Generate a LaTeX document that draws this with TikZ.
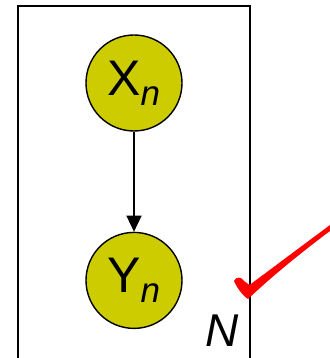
\documentclass[tikz,border=0pt]{standalone}
\usepackage{amsmath}
\usepackage{fontspec}
\setmainfont{Liberation Sans}
\usetikzlibrary{arrows.meta,positioning}
\definecolor{varfill}{HTML}{CCCC00}
\definecolor{tick}{HTML}{FF0000}

\begin{document}
\begin{tikzpicture}[x=1pt,y=1pt,node distance=100pt,>={Triangle[length=16pt,width=15pt]},
  var/.style={circle,draw=black,line width=1.4pt,fill=varfill,minimum size=96pt,inner sep=0pt,font=\fontsize{50}{54}\selectfont}]
\useasboundingbox (0,0) rectangle (329,358);
\node[var] (xn) at (134,275) {X$_{\textit{n}}$};
\node[var,below=of xn] (yn) {Y$_{\textit{n}}$};
\draw[->,line width=1.4pt] (xn)--(yn);
% plate
\draw[line width=2pt] (17.5,-5) rectangle (249.5,352);
\node[anchor=base east,inner sep=0pt,font=\fontsize{46}{50}\selectfont\itshape] (plate) at (239,11) {N};
% check mark
\fill[tick] (234,77) .. controls (236,82) and (242,81) .. (244,77) -- (249.5,73) -- (330,133)
  -- (330,127) .. controls (290,97) and (265,75) .. (248,59) .. controls (243,62) and (237,70) .. cycle;
\end{tikzpicture}
\end{document}
